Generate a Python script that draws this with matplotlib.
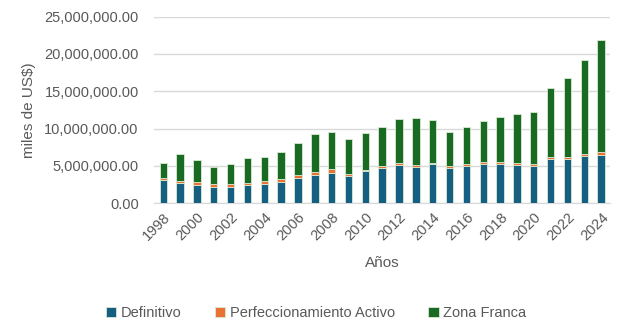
import numpy as np
import matplotlib
matplotlib.use("Agg")
import matplotlib.pyplot as plt
from matplotlib.ticker import FuncFormatter

# Exportaciones por régimen (miles de US$), valores acumulados por año
years = list(range(1998, 2025))
definitivo = [3.08, 2.72, 2.49, 2.22, 2.22, 2.41, 2.63, 2.90, 3.35, 3.75,
              4.10, 3.70, 4.29, 4.77, 5.09, 4.90, 5.22, 4.77, 4.96, 5.22,
              5.31, 5.13, 5.04, 5.89, 5.93, 6.29, 6.51]
perfeccionamiento = [0.35, 0.31, 0.36, 0.36, 0.36, 0.31, 0.36, 0.31, 0.44, 0.48,
                     0.45, 0.27, 0.21, 0.23, 0.27, 0.27, 0.22, 0.23, 0.26, 0.27,
                     0.22, 0.23, 0.18, 0.27, 0.31, 0.31, 0.32]
zona_franca = [1.93, 3.61, 2.99, 2.32, 2.64, 3.31, 3.25, 3.70, 4.33, 5.05,
               4.96, 4.60, 4.88, 5.26, 5.97, 6.30, 5.76, 4.55, 5.04, 5.49,
               6.03, 6.56, 7.01, 9.28, 10.54, 12.55, 15.00]

definitivo = np.array(definitivo) * 1e6
perfeccionamiento = np.array(perfeccionamiento) * 1e6
zona_franca = np.array(zona_franca) * 1e6

c_def = "#156082"
c_per = "#E97132"
c_zf = "#196B24"
grey = "#595959"

plt.rcParams["font.family"] = ["Liberation Sans", "DejaVu Sans"]

fig = plt.figure(figsize=(6.26, 3.32), dpi=100)
ax = fig.add_axes([0.246, 0.388, 0.729, 0.562])

x = np.arange(len(years))
w = 0.44
ec = "#d9ead3"
ax.bar(x, definitivo, w, color=c_def, edgecolor=ec, linewidth=0.6,
       label="Definitivo", zorder=3)
ax.bar(x, perfeccionamiento, w, bottom=definitivo, color=c_per, edgecolor=ec,
       linewidth=0.6, label="Perfeccionamiento Activo", zorder=3)
ax.bar(x, zona_franca, w, bottom=definitivo + perfeccionamiento, color=c_zf,
       edgecolor=ec, linewidth=0.6, label="Zona Franca", zorder=3)

ax.set_ylim(0, 25e6)
ax.set_yticks(np.arange(0, 25e6 + 1, 5e6))
ax.yaxis.set_major_formatter(FuncFormatter(lambda v, p: f"{v:,.2f}"))
ax.set_xlim(-0.55, len(years) - 0.45)
ax.set_xticks(x[::2])
ax.set_xticklabels([str(y) for y in years[::2]], rotation=45, ha="right",
                   rotation_mode="anchor")

ax.grid(axis="y", color="#d9d9d9", linewidth=1, zorder=0)
for s in ["top", "right", "left"]:
    ax.spines[s].set_visible(False)
ax.spines["bottom"].set_color("#d9d9d9")
ax.tick_params(axis="both", length=0, labelsize=10.5, labelcolor=grey)
ax.tick_params(axis="y", pad=11)
ax.tick_params(axis="x", pad=5)

ax.set_ylabel("miles de US$)", fontsize=11, color=grey, labelpad=6)
ax.set_xlabel("Años", fontsize=11, color=grey, labelpad=9)

fig.legend(loc="center", bbox_to_anchor=(0.505, 0.057), ncol=3, frameon=False,
           fontsize=10.5, labelcolor=grey, handlelength=0.7, handleheight=0.7,
           handletextpad=0.3, columnspacing=2.3)

fig.savefig("out.png", dpi=100)
